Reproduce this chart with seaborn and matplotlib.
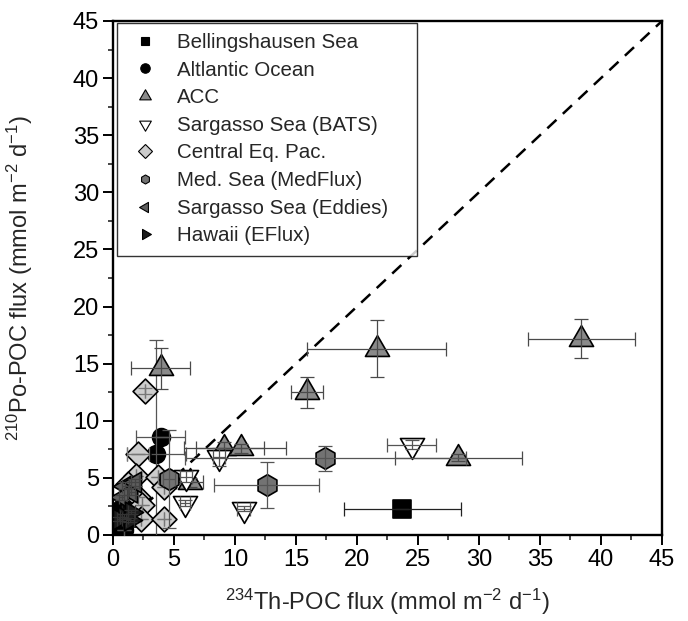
import numpy as np
import pandas as pd
import matplotlib
matplotlib.use("Agg")
import matplotlib.pyplot as plt
from matplotlib.lines import Line2D
from matplotlib.path import Path
from matplotlib.ticker import MultipleLocator
import seaborn as sns

# ---------------- data ----------------
bell_x = [23.7, 0.7, 1.2, 0.8, 1.0]
bell_y = [2.3, 2.0, 1.5, 1.0, 2.3]
bell_xe = [4.8, 0.0, 0.0, 0.0, 0.0]
bell_ye = [0.0, 0.0, 0.0, 0.0, 0.0]

atl_x = [3.9, 3.55, 0.9]
atl_y = [8.6, 7.1, 0.4]
atl_xe = [2.0, 2.4, 0.0]
atl_ye = [0.0, 10.0, 0.0]

acc_x = [3.9, 21.6, 38.4, 15.9, 9.1, 10.5, 28.3, 6.3]
acc_y = [14.6, 16.3, 17.2, 12.5, 7.6, 7.6, 6.75, 4.6]
acc_xe = [2.4, 5.7, 4.4, 1.3, 3.3, 3.7, 5.2, 1.1]
acc_ye = [1.8, 2.5, 1.7, 1.35, 0.5, 0.4, 0.3, 0.4]

bats_x = [8.7, 24.5, 10.7, 5.9, 6.0]
bats_y = [6.8, 7.9, 2.3, 2.8, 5.1]
bats_xe = [0.5, 2.0, 0.5, 0.4, 0.5]
bats_ye = [0.8, 0.4, 0.2, 0.3, 0.5]

cep_x = [2.6, 2.05, 1.9, 3.7, 1.2, 2.05, 2.4, 2.3, 4.2, 4.2]
cep_y = [12.6, 7.05, 5.2, 5.1, 4.5, 3.3, 2.6, 1.4, 1.4, 4.2]
cep_xe = [0.0, 0.9, 0.0, 0.0, 0.0, 0.0, 0.0, 0.0, 0.0, 0.0]
cep_ye = [0.3, 0.0, 0.0, 0.0, 0.0, 0.0, 0.0, 0.0, 0.0, 0.0]

med_x = [17.4, 12.6, 4.6]
med_y = [6.7, 4.4, 4.9]
med_xe = [11.5, 4.3, 0.5]
med_ye = [1.1, 2.0, 4.3]

edd_x = [1.0, 1.5, 0.7, 1.8]
edd_y = [4.3, 3.8, 3.3, 4.6]
edd_xe = [0.3, 0.3, 0.2, 0.3]
edd_ye = [0.3, 0.3, 0.2, 0.3]

haw_x = [0.9, 1.4, 0.5, 1.5]
haw_y = [1.6, 1.3, 1.4, 2.0]
haw_xe = [0.3, 0.3, 0.2, 0.3]
haw_ye = [0.2, 0.2, 0.2, 0.2]

labels = ["Bellingshausen Sea", "Altlantic Ocean", "ACC", "Sargasso Sea (BATS)",
          "Central Eq. Pac.", "Med. Sea (MedFlux)", "Sargasso Sea (Eddies)",
          "Hawaii (EFlux)"]

series = [
    (bell_x, bell_y, bell_xe, bell_ye),
    (atl_x, atl_y, atl_xe, atl_ye),
    (acc_x, acc_y, acc_xe, acc_ye),
    (bats_x, bats_y, bats_xe, bats_ye),
    (cep_x, cep_y, cep_xe, cep_ye),
    (med_x, med_y, med_xe, med_ye),
    (edd_x, edd_y, edd_xe, edd_ye),
    (haw_x, haw_y, haw_xe, haw_ye),
]


# ---------------- style ----------------
def tri(angle_deg):
    a = np.deg2rad(angle_deg + np.array([0, 120, 240]))
    v = np.column_stack([np.cos(a), np.sin(a)])
    v = np.vstack([v, v[:1]])
    return Path(v, [Path.MOVETO, Path.LINETO, Path.LINETO, Path.CLOSEPOLY])


markers = ["s", "o", tri(90), tri(-90), "D", "h", tri(180), tri(0)]
fills = ["black", "black", "#8a8a8a", "white", "#cdcdcd", "#737373", "#5e5e5e", "#1c1c1c"]
sizes = [170, 165, 400, 400, 160, 245, 300, 300]
leg_ms = [6.0, 6.8, 9.7, 9.7, 7.0, 6.5, 8.5, 8.5]
err_cols = ["#222222", "#555555", "#4a4a4a", "#555555", "#777777", "#555555", "#444444", "#333333"]

sns.set_style("ticks")
plt.rcParams["font.family"] = ["Liberation Sans", "DejaVu Sans"]
plt.rcParams["mathtext.default"] = "regular"

fig = plt.figure(figsize=(6.88, 6.21), dpi=100)
ax = fig.add_axes([0.1642, 0.1385, 0.798, 0.8277])

ax.axline((0, 0), slope=1, color="black", lw=1.8, ls=(0, (5, 3.5)), zorder=1)

for i, (xs, ys, xe, ye) in enumerate(series):
    df = pd.DataFrame({"x": xs, "y": ys})
    sns.scatterplot(data=df, x="x", y="y", marker=markers[i], s=sizes[i],
                    color=fills[i], edgecolor="black", linewidth=1.2,
                    ax=ax, zorder=3 + 2 * i, legend=False)
    ax.errorbar(xs, ys, xerr=xe, yerr=ye, fmt="none", ecolor=err_cols[i],
                elinewidth=0.9, capsize=5, capthick=0.9, zorder=4 + 2 * i)

ax.set_xlim(0, 45)
ax.set_ylim(0, 45)
ax.xaxis.set_major_locator(MultipleLocator(5))
ax.yaxis.set_major_locator(MultipleLocator(5))
ax.xaxis.set_minor_locator(MultipleLocator(2.5))
ax.yaxis.set_minor_locator(MultipleLocator(2.5))
ax.tick_params(which="major", direction="out", length=7, width=1.4, labelsize=17,
               colors="black", pad=3)
ax.tick_params(which="minor", direction="out", length=3.5, width=1.2)
for sp in ax.spines.values():
    sp.set_visible(True)
    sp.set_linewidth(1.7)
    sp.set_color("black")

ax.set_xlabel("$^{234}$Th-POC flux (mmol m$^{-2}$ d$^{-1}$)", fontsize=17)
ax.set_ylabel("$^{210}$Po-POC flux (mmol m$^{-2}$ d$^{-1}$)", fontsize=17)
ax.xaxis.set_label_coords(0.5, -0.1)
ax.yaxis.set_label_coords(-0.142, 0.5)

handles = [Line2D([], [], ls="none", marker=markers[i], markersize=leg_ms[i],
                  markerfacecolor=fills[i], markeredgecolor="black", markeredgewidth=0.8)
           for i in range(len(labels))]
leg = ax.legend(handles, labels, loc="upper left",
                bbox_to_anchor=(0.0073, 0.9967, 0.546, 0.0), mode="expand",
                borderaxespad=0, fontsize=14.8, frameon=True, fancybox=False,
                handlelength=1.7, handletextpad=0.7, labelspacing=0.42,
                borderpad=0.5)
leg.get_frame().set_edgecolor("black")
leg.get_frame().set_linewidth(1.0)
leg.set_zorder(30)

fig.savefig("out.png", dpi=100)
